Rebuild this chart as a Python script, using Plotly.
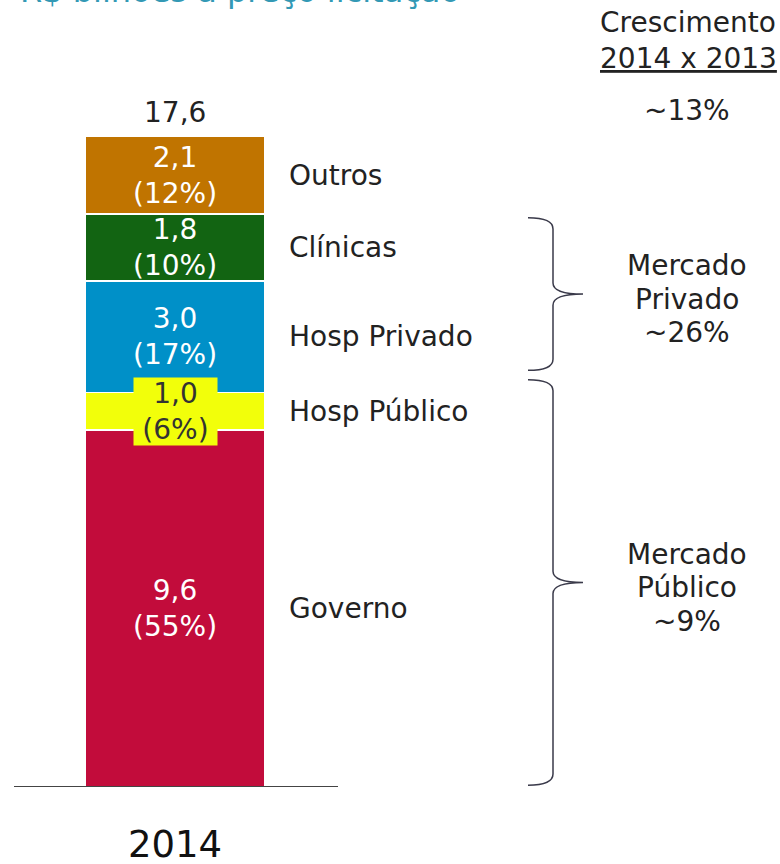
import plotly.graph_objects as go

# ---- data ----
year = ["2014"]
segments = ["Governo", "Hosp Público", "Hosp Privado", "Clínicas", "Outros"]
values = [9.6, 1.0, 3.0, 1.8, 2.1]
shares = [55, 6, 17, 10, 12]
colors = ["#C20C3B", "#F2FF0A", "#0090C8", "#126412", "#C07400"]
text_colors = ["white", "#333333", "white", "white", "white"]
total_label = "17,6"
growth_header = ["Crescimento", "2014 x 2013"]
growth_total = "~13%"
markets = [["Mercado", "Privado", "~26%"], ["Mercado", "Público", "~9%"]]
title_text = "R$ bilhões a preço licitação"

W, H = 780, 864
PX_PER_UNIT = 37.2
BOTTOM = 787
YMAX = BOTTOM / PX_PER_UNIT
FONT = "DejaVu Sans"
FS = 28
DARK = "#222222"


def fmt(v):
    return f"{v:.1f}".replace(".", ",")


def px_x(p):
    return p / W


def py(p):
    return (BOTTOM - p) / PX_PER_UNIT


fig = go.Figure()
for name, v, c in zip(segments, values, colors):
    fig.add_trace(go.Bar(
        x=year, y=[v], name=name, width=1.0,
        marker=dict(color=c, line=dict(color="white", width=1.5)),
        hoverinfo="name+y",
    ))

annotations = []
shapes = []
cum = 0.0
cums = []
for name, v, s, tc in zip(segments, values, shares, text_colors):
    mid = cum + v / 2
    cum += v
    cums.append(cum)
    a = dict(x=0, xref="x", y=mid, yref="y", text=f"{fmt(v)}<br>({s}%)",
             showarrow=False, font=dict(family=FONT, size=FS, color=tc),
             xanchor="center", yanchor="middle")
    if name == "Hosp Público":
        a.update(bgcolor="#F2FF0A", width=83, height=67, borderpad=0)
    annotations.append(a)
    annotations.append(dict(x=px_x(287), xref="paper", y=mid, yref="y", text=name,
                            showarrow=False, xanchor="left", yanchor="middle",
                            font=dict(family=FONT, size=FS, color=DARK)))

# total above bar
annotations.append(dict(x=0, xref="x", y=cum, yref="y", text=total_label, showarrow=False,
                        yshift=24, xanchor="center", yanchor="middle",
                        font=dict(family=FONT, size=FS, color=DARK)))

# right column header
def right_note(text, ypix, xpix=688):
    return dict(x=px_x(xpix), xref="paper", y=py(ypix), yref="y", text=text,
                showarrow=False, xanchor="center", yanchor="middle",
                font=dict(family=FONT, size=FS, color=DARK))


annotations.append(right_note(growth_header[0], 22))
annotations.append(right_note(
    f'<span style="text-decoration:underline">{growth_header[1]}</span>', 58))
annotations.append(right_note(growth_total, 110, 687))

# title (cut off at top)
annotations.append(dict(x=px_x(18), xref="paper", y=1, yref="paper", text=title_text,
                        showarrow=False, xanchor="left", yanchor="middle", yshift=9,
                        font=dict(family=FONT, size=32, color="#3399B5")))

# braces
brace_ranges = [
    (cums[1] + 0.6, cums[3] - 0.1),   # mercado privado
    (0.05, cums[1] + 0.35),            # mercado público
]
xl, xs, xt = px_x(528), px_x(553), px_x(583)
r = 0.3
LINE_GAP = 33.5 / PX_PER_UNIT
for (yb, yt), lines in zip(brace_ranges, markets):
    ym = (yb + yt) / 2
    path = (f"M {xl},{yt} Q {xs},{yt} {xs},{yt - r} L {xs},{ym + r} "
            f"Q {xs},{ym} {xt},{ym} Q {xs},{ym} {xs},{ym - r} "
            f"L {xs},{yb + r} Q {xs},{yb} {xl},{yb}")
    shapes.append(dict(type="path", xref="paper", yref="y", path=path,
                       line=dict(color="#3A3A4A", width=1.5)))
    for i, t in enumerate(lines):
        annotations.append(dict(x=px_x(687), xref="paper", y=ym + LINE_GAP * (1 - i) - 0.14,
                                yref="y", text=t, showarrow=False,
                                xanchor="center", yanchor="middle",
                                font=dict(family=FONT, size=FS, color=DARK)))

# baseline
shapes.append(dict(type="line", xref="paper", yref="y", x0=px_x(14), x1=px_x(338), y0=0, y1=0,
                   line=dict(color="#444444", width=2), layer="above"))

fig.update_layout(
    width=W, height=H,
    margin=dict(l=0, r=0, t=0, b=H - BOTTOM, autoexpand=False),
    paper_bgcolor="white", plot_bgcolor="white",
    barmode="stack", showlegend=False,
    annotations=annotations, shapes=shapes,
    xaxis=dict(type="category", range=[-175 / 180, -175 / 180 + W / 180],
               showgrid=False, zeroline=False, showline=False, ticks="",
               tickfont=dict(family=FONT, size=37, color="#111111"),
               ticklabelstandoff=32, automargin=False, fixedrange=True),
    yaxis=dict(range=[0, YMAX], visible=False, automargin=False, fixedrange=True),
)

fig.write_html("out.html", config={"displayModeBar": False},
               post_script="document.body.style.margin='0';document.body.style.overflow='hidden';")
